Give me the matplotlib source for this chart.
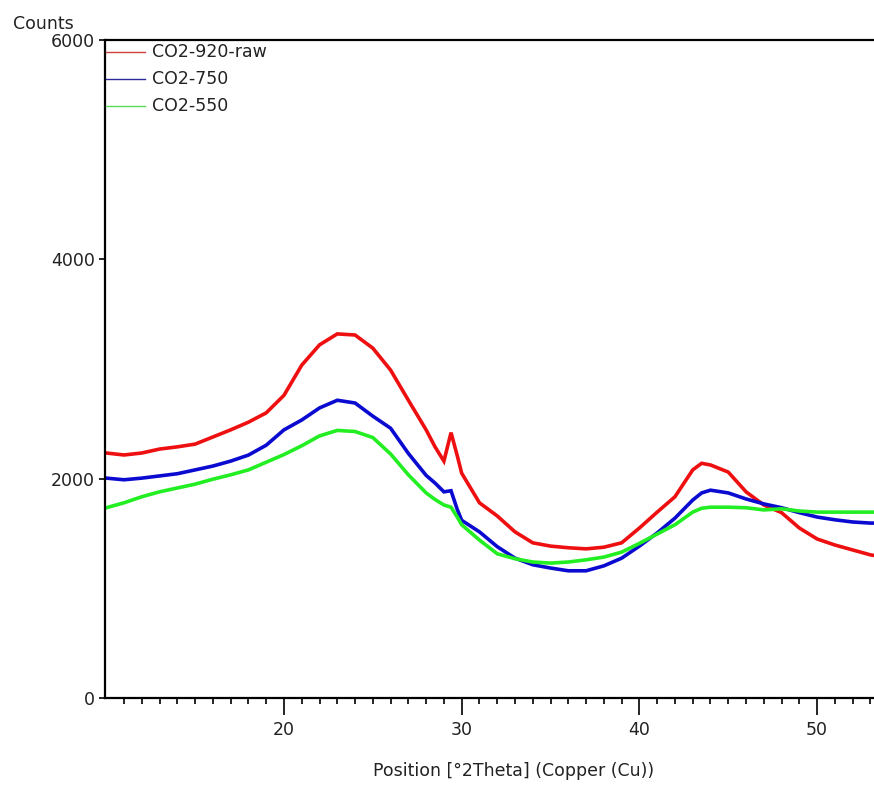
import matplotlib
matplotlib.use("Agg")
import matplotlib.pyplot as plt
from matplotlib.lines import Line2D

# Diffraction scans: position in degrees 2-theta, intensity in counts
two_theta = [10, 11, 12, 13, 14, 15, 16, 17, 18, 19, 20, 21, 22, 23, 24, 25, 26,
             27, 28, 28.5, 29, 29.4, 29.75, 30, 31, 32, 33, 34, 35, 36, 37, 38,
             39, 40, 41, 42, 43, 43.5, 44, 45, 46, 47, 48, 49, 50, 51, 52, 53, 53.2]

co2_920_raw = [2234, 2216, 2234, 2270, 2290, 2315, 2380, 2445, 2515, 2600, 2760,
               3035, 3220, 3320, 3310, 3190, 2990, 2715, 2445, 2290, 2160, 2420,
               2210, 2050, 1780, 1660, 1515, 1415, 1385, 1370, 1360, 1375, 1415,
               1550, 1695, 1835, 2080, 2140, 2125, 2060, 1880, 1760, 1690, 1550,
               1450, 1395, 1350, 1305, 1300]

co2_750 = [2005, 1990, 2005, 2025, 2045, 2080, 2115, 2160, 2215, 2305, 2445,
           2535, 2645, 2715, 2690, 2570, 2460, 2230, 2030, 1960, 1880, 1890,
           1720, 1620, 1515, 1380, 1275, 1215, 1185, 1160, 1160, 1205, 1275,
           1385, 1505, 1640, 1805, 1870, 1895, 1870, 1815, 1770, 1735, 1690,
           1650, 1625, 1605, 1595, 1595]

co2_550 = [1735, 1780, 1835, 1880, 1915, 1950, 1995, 2035, 2080, 2150, 2220,
           2300, 2390, 2440, 2430, 2375, 2225, 2035, 1870, 1810, 1760, 1740,
           1650, 1580, 1440, 1315, 1270, 1240, 1230, 1240, 1260, 1285, 1330,
           1410, 1495, 1580, 1695, 1730, 1740, 1740, 1735, 1715, 1725, 1705,
           1695, 1695, 1695, 1695, 1695]

series_labels = ["CO2-920-raw", "CO2-750", "CO2-550"]
x_ticks = [20, 30, 40, 50]
y_ticks = [0, 2000, 4000, 6000]

line_colors = ["#ee1010", "#0a0ad0", "#22ee22"]
legend_colors = ["#d04040", "#2a2a9a", "#55dd55"]

W, H = 874, 785
fig = plt.figure(figsize=(W / 100, H / 100), dpi=100)
ax_left, ax_right, ax_bottom, ax_top = 105, 874, 698, 40
ax = fig.add_axes([ax_left / W, 1 - ax_bottom / H,
                   (ax_right - ax_left) / W, (ax_bottom - ax_top) / H])

for ys, c in zip([co2_920_raw, co2_750, co2_550], line_colors):
    ax.plot(two_theta, ys, color=c, lw=2.6, solid_joinstyle="miter")

ax.set_xlim(9.93, 53.2)
ax.set_ylim(0, 6000)

for side in ("left", "top", "bottom"):
    ax.spines[side].set_linewidth(1.6)
    ax.spines[side].set_color("black")
ax.spines["right"].set_visible(False)

font = dict(family="DejaVu Sans", size=12.5, color="#222222")

ax.set_xticks(x_ticks)
ax.set_xticks(range(11, 54), minor=True)
ax.set_xticklabels([str(t) for t in x_ticks], **font)
ax.set_yticks(y_ticks)
ax.set_yticklabels([str(t) for t in y_ticks], **font)
ax.tick_params(axis="x", which="major", direction="out", length=12.5, width=1.2, pad=4)
ax.tick_params(axis="x", which="minor", direction="out", length=4.5, width=1.2)
ax.tick_params(axis="y", which="major", direction="out", length=4.5, width=1.2, pad=3)
ax.tick_params(top=False, right=False)

fig.text(514 / W, 1 - 771 / H, "Position [°2Theta] (Copper (Cu))",
         ha="center", va="center", **font)
fig.text(13 / W, 1 - 24 / H, "Counts", ha="left", va="center", **font)

# Legend rows in the upper-left corner of the plot area
for i, (lab, c) in enumerate(zip(series_labels, legend_colors)):
    yp = 1 - (52 + 27 * i) / H
    fig.add_artist(Line2D([106 / W, 145 / W], [yp, yp], color=c, lw=1.0,
                          transform=fig.transFigure))
    fig.text(152 / W, yp, lab, ha="left", va="center", **font)

fig.savefig("out.png", dpi=100, facecolor="white")
